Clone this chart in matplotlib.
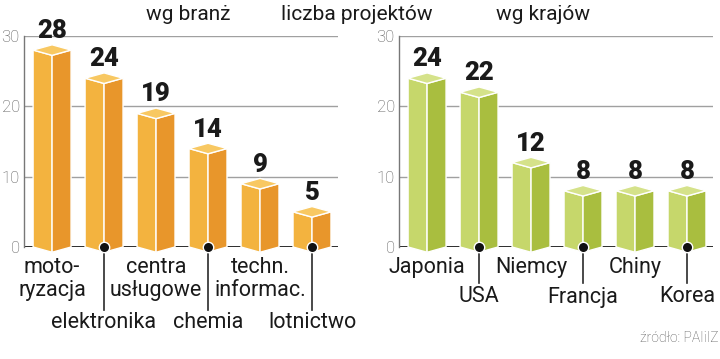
import matplotlib
matplotlib.use('Agg')
import matplotlib.pyplot as plt
from matplotlib.patches import Polygon

# data
branze = ['moto-\nryzacja', 'elektronika', 'centra\nusługowe', 'chemia',
          'techn.\ninformac.', 'lotnictwo']
branze_val = [28, 24, 19, 14, 9, 5]
kraje = ['Japonia', 'USA', 'Niemcy', 'Francja', 'Chiny', 'Korea']
kraje_val = [24, 22, 12, 8, 8, 8]
yticks = [0, 10, 20, 30]

plt.rcParams['font.family'] = ['Roboto', 'DejaVu Sans']

W, H = 720, 359
fig = plt.figure(figsize=(W / 100, H / 100), dpi=100)

y0_px, y30_px = 247, 36
ppu = (y0_px - y30_px) / 30.0   # pixels per data unit


def px(p):
    return p / ppu


orange = dict(front='#f3b33f', side='#e8962b', top='#f8c862')
green = dict(front='#c6d76b', side='#a9be3f', top='#d5e28a')


def panel(left_px, right_px, names, vals, cols, low_line, low_lbl, up_lbl):
    ax = fig.add_axes([left_px / W, 1 - y0_px / H,
                       (right_px - left_px) / W, (y0_px - y30_px) / H])
    ax.set_xlim(-0.54, 5.5)
    ax.set_ylim(0, 30)
    ax.set_yticks(yticks)
    ax.set_xticks([])
    for s in ['top', 'right', 'bottom']:
        ax.spines[s].set_visible(False)
    ax.spines['left'].set_color('#777777')
    ax.spines['left'].set_linewidth(1)
    ax.tick_params(axis='y', length=0, pad=3, labelsize=12, labelcolor='#555555')
    for t in ax.get_yticklabels():
        t.set_fontweight('light')
    for t in yticks[1:]:
        ax.axhline(t, color='#a0a0a0', lw=1, zorder=1)
    ax.axhline(0, color='#1a1a1a', lw=2, zorder=2)

    w = 0.365
    d = 0.75
    for i, (name, v) in enumerate(zip(names, vals)):
        x = i
        front = [(x - w, v), (x, v - d), (x, -d), (x - w, 0)]
        side = [(x, v - d), (x + w, v), (x + w, 0), (x, -d)]
        top = [(x - w, v), (x, v - d), (x + w, v), (x, v + d)]
        for pts, c in [(front, cols['front']), (side, cols['side']), (top, cols['top'])]:
            ax.add_patch(Polygon(pts, closed=True, facecolor=c, edgecolor='white',
                                 lw=1, zorder=3, clip_on=False))
        ax.text(x, v + px(12), str(v), ha='center', va='baseline', fontsize=18.5,
                fontweight='heavy', color='#1a1a1a', zorder=5, clip_on=False)
        if i % 2 == 1:
            ax.plot([x, x], [0, -px(low_line)], color='#2a2a2a', lw=1.2,
                    zorder=4, clip_on=False)
            ax.plot([x], [0], marker='o', ms=7.5, color='#111111', mec='white',
                    mew=1, zorder=6, clip_on=False)
            ax.text(x, -px(low_lbl), name, ha='center', va='center', fontsize=15.5,
                    color='#1a1a1a', clip_on=False)
        else:
            ax.text(x, -px(up_lbl), name, ha='center', va='center', fontsize=15.5,
                    color='#1a1a1a', linespacing=1.1, clip_on=False)
    return ax


panel(24, 338, branze, branze_val, orange, 63, 76, 32)
panel(399, 713, kraje, kraje_val, green, 36, 50, 20)

fig.text(188 / W, 1 - 14 / H, 'wg branż', ha='center', va='center', fontsize=15, color='#1a1a1a')
fig.text(357 / W, 1 - 14 / H, 'liczba projektów', ha='center', va='center', fontsize=15, color='#1a1a1a')
fig.text(543 / W, 1 - 14 / H, 'wg krajów', ha='center', va='center', fontsize=15, color='#1a1a1a')
fig.text(718 / W, 1 - 338 / H, 'źródło: PAIiIZ', ha='right', va='center', fontsize=10,
         color='#555555', fontweight='light')

fig.savefig('out.png', dpi=100, facecolor='white')
